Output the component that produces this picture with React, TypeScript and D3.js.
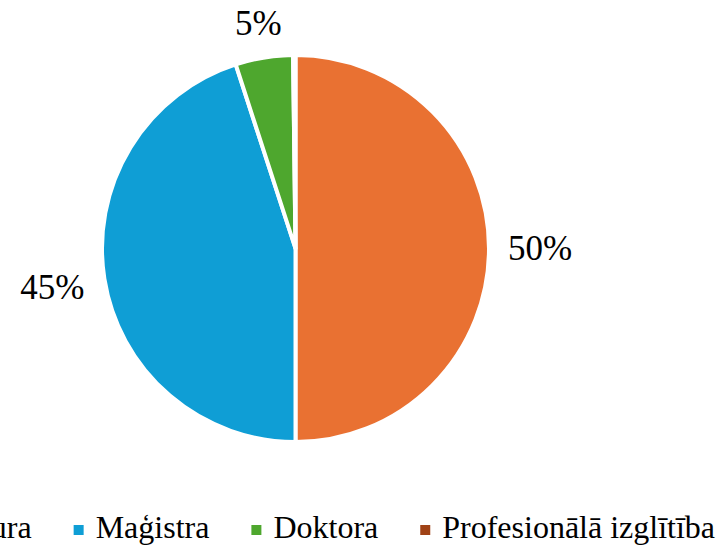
import React from "react";
import * as d3 from "d3";

const categories = ["Bakalaura", "Maģistra", "Doktora", "Profesionālā izglītība"];
const values = [50, 45, 4.8, 0.2];
const colors = ["#E97132", "#0F9ED5", "#4EA72E", "#A04216"];

const W = 720;
const H = 546;
const FONT =
  '"Liberation Serif", "DejaVu Serif", "Noto Serif", "Nimbus Roman", "Nimbus Roman No9 L", "FreeSerif", "Times", "Georgia", serif';

function measure(text: string, size: number): number {
  const c = document.createElement("canvas");
  const ctx = c.getContext("2d");
  if (!ctx) return text.length * size * 0.45;
  ctx.font = `${size}px ${FONT}`;
  return ctx.measureText(text).width;
}

export default function App() {
  const cx = 295.5;
  const cy = 248.5;
  const r = 193.5;
  const labelFs = 35;
  const legendFs = 32;

  const total = d3.sum(values);
  const pie = d3.pie<number>().sort(null).value((d) => d)(values);
  const arc = d3.arc<d3.PieArcDatum<number>>().innerRadius(0).outerRadius(r);

  const labelEls = pie.map((p, i) => {
    const pct = Math.round((p.value / total) * 100);
    if (pct < 1) return null;
    const text = `${pct}%`;
    const w = measure(text, labelFs);
    const h = labelFs * 0.7;
    const mid = (p.startAngle + p.endAngle) / 2;
    const dx = Math.sin(mid);
    const dy = -Math.cos(mid);
    const ext = Math.abs(dx) * (w / 2) + Math.abs(dy) * (h / 2);
    const dist = r + 19 + ext;
    const lx = cx + dx * dist;
    const ly = cy + dy * dist;
    return (
      <text
        key={i}
        x={lx}
        y={ly + labelFs * 0.338}
        textAnchor="middle"
        style={{ fontFamily: FONT, fontSize: labelFs }}
        fill="#000"
      >
        {text}
      </text>
    );
  });

  const marker = 10;
  const markerGap = 12;
  const itemGap = 42;
  const widths = categories.map((c) => marker + markerGap + measure(c, legendFs));
  const totalW = d3.sum(widths) + itemGap * (categories.length - 1);
  let x0 = cx + 2 - totalW / 2;
  const legendBaseline = 538;
  const legendItems = categories.map((c, i) => {
    const x = x0;
    x0 += widths[i] + itemGap;
    return (
      <g key={c}>
        <rect x={x} y={legendBaseline - 13} width={marker} height={marker} fill={colors[i]} />
        <text
          x={x + marker + markerGap}
          y={legendBaseline}
          style={{ fontFamily: FONT, fontSize: legendFs }}
          fill="#000"
        >
          {c}
        </text>
      </g>
    );
  });

  return (
    <div style={{ position: "fixed", left: 0, top: 0, width: W, height: H, background: "#fff" }}>
      <svg width={W} height={H} style={{ display: "block" }}>
        <rect width={W} height={H} fill="#fff" />
        <g transform={`translate(${cx},${cy})`}>
          {pie.map((p, i) => (
            <path
              key={i}
              d={arc(p) || ""}
              fill={colors[i]}
              stroke="#fff"
              strokeWidth={4}
              strokeLinejoin="round"
            />
          ))}
        </g>
        {labelEls}
        {legendItems}
      </svg>
    </div>
  );
}
